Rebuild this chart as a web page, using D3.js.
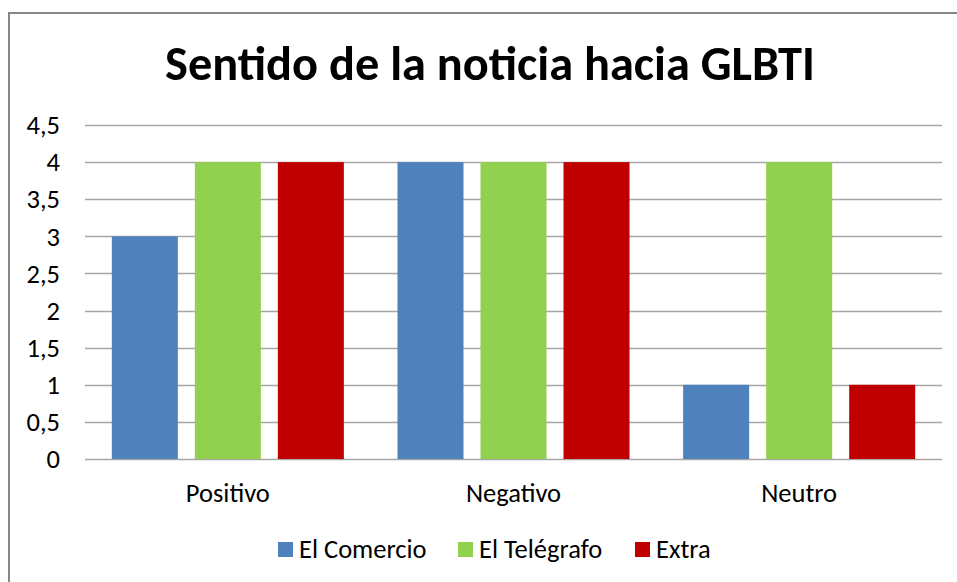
<!DOCTYPE html>
<html><head><meta charset="utf-8">
<script src="https://cdn.jsdelivr.net/npm/d3@7"></script>
<style>body{margin:0;background:#fff}svg{display:block}</style>
</head><body>
<svg id="c" width="957" height="582"></svg>
<script>
const categories = ["Positivo", "Negativo", "Neutro"];
const series = ["El Comercio", "El Telégrafo", "Extra"];
const elComercio = [3, 4, 1];
const elTelegrafo = [4, 4, 4];
const extra = [4, 4, 1];
const yTicks = [0, 0.5, 1, 1.5, 2, 2.5, 3, 3.5, 4, 4.5];
const colors = ["#4F81BD", "#92D050", "#C00000"];
const title = "Sentido de la noticia hacia GLBTI";

const values = [elComercio, elTelegrafo, extra];
const svg = d3.select("#c");
const font = "Carlito, Calibri, 'Open Sans', 'Liberation Sans', sans-serif";
const fs = 26.5;

// border
svg.append("rect").attr("x", 9).attr("y", 13).attr("width", 1000).attr("height", 1000)
  .attr("fill", "none").attr("stroke", "#868686").attr("stroke-width", 2);

const pLeft = 85, pRight = 942, pTop = 125, pBottom = 459;
const y = d3.scaleLinear().domain([0, 4.5]).range([pBottom, pTop]);
const x0 = d3.scaleBand().domain(categories).range([pLeft, pRight]).paddingInner(0).paddingOuter(0);
const x1 = d3.scaleBand().domain(series).range([0, x0.bandwidth()]).paddingInner(17/83).paddingOuter(0.323);

// gridlines
svg.append("g").selectAll("line").data(yTicks).join("line")
  .attr("x1", pLeft).attr("x2", pRight)
  .attr("y1", d => Math.round(y(d)) + 0.5).attr("y2", d => Math.round(y(d)) + 0.5)
  .attr("stroke", "#a6a6a6").attr("stroke-width", 1.3);

// y axis labels
const yAxis = d3.axisLeft(y).tickValues(yTicks).tickSize(0).tickPadding(0)
  .tickFormat(d => String(d).replace(".", ","));
const ga = svg.append("g").attr("transform", `translate(${60},0)`).call(yAxis);
ga.select(".domain").remove();
ga.selectAll("text").attr("font-family", font).attr("font-size", fs).attr("fill", "#000").attr("dy", "0.33em");

// bars
const groups = svg.append("g").selectAll("g").data(categories).join("g")
  .attr("transform", d => `translate(${x0(d)},0)`);
groups.selectAll("rect").data((c, ci) => series.map((s, si) => ({s, si, v: values[si][ci]})))
  .join("rect")
  .attr("x", d => x1(d.s)).attr("width", x1.bandwidth())
  .attr("y", d => y(d.v)).attr("height", d => y(0) - y(d.v))
  .attr("fill", d => colors[d.si]);

// category labels
svg.append("g").selectAll("text").data(categories).join("text")
  .attr("x", d => x0(d) + x0.bandwidth() / 2).attr("y", 502)
  .attr("text-anchor", "middle").attr("font-family", font).attr("font-size", fs)
  .attr("fill", "#000").text(d => d);

// title
const t = svg.append("text").attr("x", 490).attr("y", 80).attr("text-anchor", "middle")
  .attr("font-family", font).attr("font-weight", "bold").attr("font-size", 40)
  .attr("fill", "#000").text(title);
const tw = t.node().getComputedTextLength();
t.attr("font-size", 40 * 650 / tw);

// legend
const legX = [278, 458, 635];
const lg = svg.append("g").selectAll("g").data(series).join("g")
  .attr("transform", (d, i) => `translate(${legX[i]},542)`);
lg.append("rect").attr("width", 15).attr("height", 15).attr("fill", (d, i) => colors[i]);
lg.append("text").attr("x", 21).attr("y", 16).attr("font-family", font).attr("font-size", fs)
  .attr("fill", "#000").text(d => d);
</script>
</body></html>
